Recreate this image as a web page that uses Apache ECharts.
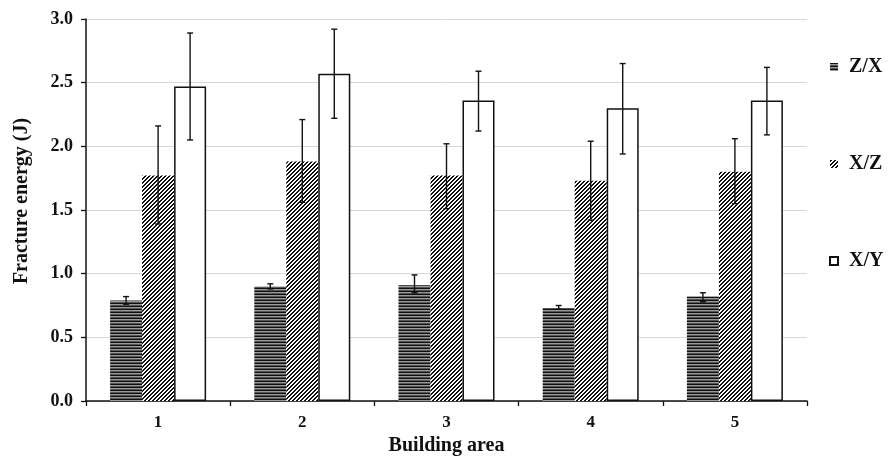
<!DOCTYPE html>
<html>
<head>
<meta charset="utf-8">
<script src="https://cdn.jsdelivr.net/npm/echarts@6/dist/echarts.min.js"></script>
<style>html,body{margin:0;padding:0;background:#fff}#c{width:888px;height:458px}</style>
</head>
<body>
<div id="c"></div>
<script>
// ---- data ----
const categories = ['1', '2', '3', '4', '5'];
const seriesNames = ['Z/X', 'X/Z', 'X/Y'];
const zxValues = [0.79, 0.90, 0.91, 0.73, 0.82];
const xzValues = [1.77, 1.88, 1.77, 1.73, 1.80];
const xyValues = [2.47, 2.57, 2.36, 2.30, 2.36];
const zxLow  = [0.76, 0.88, 0.85, 0.72, 0.78];
const zxHigh = [0.82, 0.92, 0.99, 0.75, 0.85];
const xzLow  = [1.39, 1.56, 1.51, 1.42, 1.55];
const xzHigh = [2.16, 2.21, 2.02, 2.04, 2.06];
const xyLow  = [2.05, 2.22, 2.12, 1.94, 2.09];
const xyHigh = [2.89, 2.92, 2.59, 2.65, 2.62];
const yTicks = ['0.0', '0.5', '1.0', '1.5', '2.0', '2.5', '3.0'];

// ---- styles ----
const BAR_W = 32;
const FONT = '"Liberation Serif", "Times New Roman", serif';

function makePattern(w, h, painter) {
  const c = document.createElement('canvas');
  c.width = w; c.height = h;
  const ctx = c.getContext('2d');
  ctx.fillStyle = '#fff';
  ctx.fillRect(0, 0, w, h);
  painter(ctx);
  return { image: c, repeat: 'repeat' };
}
const hPattern = makePattern(4, 3, ctx => {
  ctx.fillStyle = '#111'; ctx.fillRect(0, 0, 4, 1);
  ctx.fillStyle = '#999'; ctx.fillRect(0, 1, 4, 1);
  ctx.fillStyle = '#555'; ctx.fillRect(0, 2, 4, 1);
});
const dPattern = makePattern(4, 4, ctx => {
  ctx.fillStyle = '#111';
  for (let x = 0; x < 4; x++) for (let y = 0; y < 4; y++) {
    if ((x + y) % 4 < 2) ctx.fillRect(x, y, 1, 1);
  }
});

const lows = [zxLow, xzLow, xyLow];
const highs = [zxHigh, xzHigh, xyHigh];

function errSeries(idx) {
  const data = categories.map((c, i) => [i, lows[idx][i], highs[idx][i]]);
  return {
    type: 'custom',
    name: seriesNames[idx] + ' err',
    z: 10,
    data: data,
    renderItem: function (params, api) {
      const ci = api.value(0);
      const lo = api.coord([ci, api.value(1)]);
      const hi = api.coord([ci, api.value(2)]);
      const x = lo[0] + (idx - 1) * BAR_W;
      const cap = 3;
      const st = { stroke: '#111', lineWidth: 1.4 };
      return {
        type: 'group',
        children: [
          { type: 'line', shape: { x1: x, y1: lo[1], x2: x, y2: hi[1] }, style: st },
          { type: 'line', shape: { x1: x - cap, y1: lo[1], x2: x + cap, y2: lo[1] }, style: st },
          { type: 'line', shape: { x1: x - cap, y1: hi[1], x2: x + cap, y2: hi[1] }, style: st }
        ]
      };
    }
  };
}

const chart = echarts.init(document.getElementById('c'), null, { renderer: 'canvas' });
chart.setOption({
  animation: false,
  backgroundColor: '#fff',
  grid: { left: 86, right: 81, top: 19, bottom: 57, containLabel: false, outerBoundsMode: 'none' },
  legend: {
    data: seriesNames,
    orient: 'vertical',
    left: 829,
    top: 57,
    padding: 0,
    itemWidth: 8,
    itemHeight: 8,
    itemGap: 77,
    icon: 'rect',
    textStyle: { fontFamily: FONT, fontWeight: 'bold', fontSize: 20, color: '#111', padding: [0, 0, 0, 6] }
  },
  xAxis: {
    type: 'category',
    data: categories,
    name: 'Building area',
    nameLocation: 'middle',
    nameGap: 34,
    nameTextStyle: { fontFamily: FONT, fontWeight: 'bold', fontSize: 20, color: '#111' },
    axisLine: { lineStyle: { color: '#111', width: 1.5 } },
    axisTick: { show: true, alignWithLabel: false, length: 5, lineStyle: { color: '#111', width: 1.3 } },
    axisLabel: { fontFamily: FONT, fontWeight: 'bold', fontSize: 17, color: '#111', margin: 13 },
    splitLine: { show: false }
  },
  yAxis: {
    type: 'value',
    min: 0,
    max: 3,
    interval: 0.5,
    name: 'Fracture energy (J)',
    nameLocation: 'middle',
    nameGap: 54,
    nameTextStyle: { fontFamily: FONT, fontWeight: 'bold', fontSize: 20, color: '#111', padding: [0, 0, 0, 18] },
    axisLine: { show: true, lineStyle: { color: '#111', width: 1.5 } },
    axisTick: { show: true, length: 5, lineStyle: { color: '#111', width: 1.3 } },
    axisLabel: {
      fontFamily: FONT, fontWeight: 'bold', fontSize: 18, color: '#111', margin: 13,
      formatter: function (v) { return yTicks[Math.round(v * 2)] || v.toFixed(1); }
    },
    splitLine: { show: true, lineStyle: { color: '#d8d8d8', width: 1 } }
  },
  series: [
    { type: 'bar', name: 'Z/X', data: zxValues, barWidth: BAR_W, barGap: '0%',
      itemStyle: { color: hPattern, borderWidth: 0 } },
    { type: 'bar', name: 'X/Z', data: xzValues, barWidth: BAR_W, barGap: '0%',
      itemStyle: { color: dPattern, borderWidth: 0 } },
    { type: 'bar', name: 'X/Y', data: xyValues, barWidth: BAR_W, barGap: '0%',
      itemStyle: { color: '#fff', borderColor: '#111', borderWidth: 1.5 } },
    errSeries(0), errSeries(1), errSeries(2)
  ]
});
</script>
</body>
</html>
